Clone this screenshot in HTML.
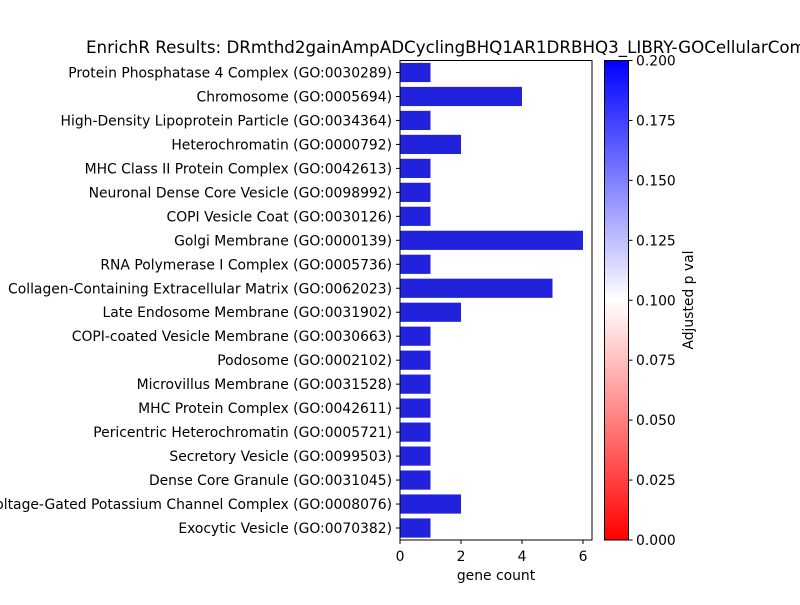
<!DOCTYPE html>
<html><head><meta charset="utf-8"><style>
body{margin:0;background:#fff;width:800px;height:600px;overflow:hidden}
text{font-family:"DejaVu Sans",sans-serif;fill:#000}
</style></head><body>
<svg id="chart" width="800" height="600">
<defs><linearGradient id="cg" x1="0" y1="1" x2="0" y2="0">
<stop offset="0" stop-color="#ff0000"/><stop offset="0.5" stop-color="#ffffff"/><stop offset="1" stop-color="#0000ff"/>
</linearGradient></defs>
<text x="86" y="53" font-size="16.7">EnrichR Results: DRmthd2gainAmpADCyclingBHQ1AR1DRBHQ3_LIBRY-GOCellularComponent</text>
<g id="bars"></g>
<rect x="400" y="60.5" width="192" height="479.5" fill="none" stroke="#000" stroke-width="1"/>
<g id="xaxis"></g>
<text x="496" y="580" font-size="13.9" text-anchor="middle">gene count</text>
<rect x="604.5" y="60.5" width="24" height="479.5" fill="url(#cg)" stroke="#000" stroke-width="1"/>
<g id="cbar"></g>
<text transform="translate(693,300) rotate(-90)" font-size="13.9" text-anchor="middle">Adjusted p val</text>
</svg>
<script>
const categories=["Protein Phosphatase 4 Complex (GO:0030289)","Chromosome (GO:0005694)","High-Density Lipoprotein Particle (GO:0034364)","Heterochromatin (GO:0000792)","MHC Class II Protein Complex (GO:0042613)","Neuronal Dense Core Vesicle (GO:0098992)","COPI Vesicle Coat (GO:0030126)","Golgi Membrane (GO:0000139)","RNA Polymerase I Complex (GO:0005736)","Collagen-Containing Extracellular Matrix (GO:0062023)","Late Endosome Membrane (GO:0031902)","COPI-coated Vesicle Membrane (GO:0030663)","Podosome (GO:0002102)","Microvillus Membrane (GO:0031528)","MHC Protein Complex (GO:0042611)","Pericentric Heterochromatin (GO:0005721)","Secretory Vesicle (GO:0099503)","Dense Core Granule (GO:0031045)","Voltage-Gated Potassium Channel Complex (GO:0008076)","Exocytic Vesicle (GO:0070382)"];
const counts=[1,4,1,2,1,1,1,6,1,5,2,1,1,1,1,1,1,1,2,1];
const xTicks=[0,2,4,6];
const cbarTicks=[0,0.025,0.05,0.075,0.1,0.125,0.15,0.175,0.2];
const cbarLabels=["0.000","0.025","0.050","0.075","0.100","0.125","0.150","0.175","0.200"];
const NS="http://www.w3.org/2000/svg";
const x0=400,xs=30.5,yTop=60.5,band=479.5/categories.length;
const X=v=>x0+v*xs;
const Y=i=>yTop+band*(i+0.5);
function mk(t,a,p){const e=document.createElementNS(NS,t);for(const k in a)e.setAttribute(k,a[k]);p.appendChild(e);return e;}
const bars=document.getElementById('bars');
categories.forEach((c,i)=>{
 const r=mk('rect',{x:X(0),y:Y(i)-band*0.4,width:X(counts[i])-X(0),height:band*0.8,fill:'#2222dd'},bars);
 
 
 mk('line',{x1:400,x2:396,y1:Y(i),y2:Y(i),stroke:'#000'},bars);
 const t=mk('text',{x:392,y:Y(i)+5,'font-size':13.9,'text-anchor':'end'},bars);
 t.textContent=c;
 
 
});
const xa=document.getElementById('xaxis');
xTicks.forEach(v=>{
 mk('line',{x1:X(v),x2:X(v),y1:540,y2:544,stroke:'#000'},xa);
 const t=mk('text',{x:X(v),y:561,'font-size':13.9,'text-anchor':'middle'},xa);
 t.textContent=v;
 
 
});
const cb=document.getElementById('cbar');
cbarTicks.forEach((v,i)=>{
 const y=540-v/0.2*479.5;
 mk('line',{x1:628.5,x2:632.5,y1:y,y2:y,stroke:'#000'},cb);
 const t=mk('text',{x:636,y:y+5,'font-size':13.9},cb);
 t.textContent=cbarLabels[i];
 
 
});
</script>
</body></html>
